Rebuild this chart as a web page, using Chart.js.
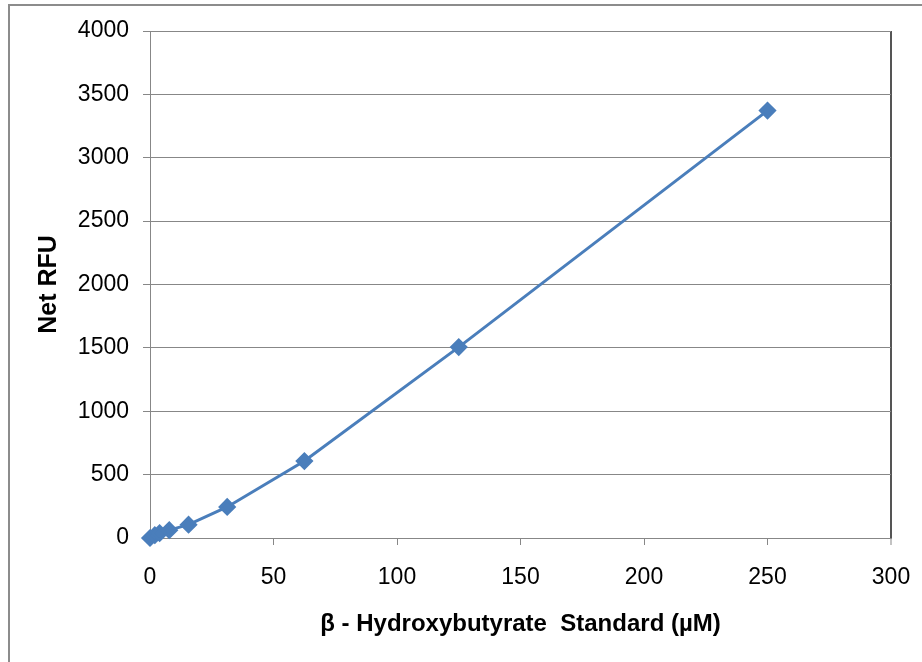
<!DOCTYPE html>
<html>
<head>
<meta charset="utf-8">
<script src="https://cdn.jsdelivr.net/npm/chart.js@4"></script>
<style>
  html, body { margin: 0; padding: 0; background: #fff; overflow: hidden; }
  canvas { display: block; }
</style>
</head>
<body>
<canvas id="chart" width="922" height="662"></canvas>
<script>
// standard curve points
const concentrations = [0, 1.95, 3.9, 7.8, 15.6, 31.25, 62.5, 125, 250];
const netRfu = [0, 22, 38, 62, 105, 245, 607, 1506, 3372];

const xTicks = [0, 50, 100, 150, 200, 250, 300];
const yTicks = [0, 500, 1000, 1500, 2000, 2500, 3000, 3500, 4000];

const gray = '#878787';
const fontName = '"Liberation Sans", Arial, sans-serif';

// outer chart frame, only left and top edges are visible in the picture
const framePlugin = {
    id: 'frame',
    beforeDraw(chart) {
        const c = chart.ctx;
        c.save();
        c.fillStyle = '#fff';
        c.fillRect(0, 0, chart.width, chart.height);
        c.strokeStyle = '#8c8c8c';
        c.lineWidth = 2;
        c.beginPath();
        c.moveTo(9, chart.height);
        c.lineTo(9, 5);
        c.lineTo(chart.width, 5);
        c.stroke();
        c.restore();
    }
};

new Chart(document.getElementById('chart'), {
    type: 'line',
    data: {
        datasets: [{
            data: concentrations.map((x, i) => ({ x: x, y: netRfu[i] })),
            borderColor: '#4a7ebb',
            backgroundColor: '#4a7ebb',
            borderWidth: 3,
            pointStyle: 'rectRot',
            pointRadius: 7,
            pointHoverRadius: 7,
            tension: 0,
            clip: false
        }]
    },
    plugins: [framePlugin],
    options: {
        responsive: false,
        animation: false,
        layout: { padding: { left: 0, right: 31, top: 31, bottom: 0 } },
        plugins: {
            legend: { display: false },
            tooltip: { enabled: false }
        },
        scales: {
            x: {
                type: 'linear',
                min: 0,
                max: 300,
                afterFit: (s) => { s.height = 124; s.paddingLeft = 0; s.paddingRight = 0; },
                afterBuildTicks: (s) => { s.ticks = xTicks.map(v => ({ value: v })); },
                border: { color: gray, width: 1 },
                grid: {
                    color: (ctx) => (ctx.tick && ctx.tick.value === 300 ? '#555' : 'rgba(0,0,0,0)'),
                    lineWidth: (ctx) => (ctx.tick && ctx.tick.value === 300 ? 2 : 1),
                    tickColor: gray,
                    tickWidth: 1,
                    tickLength: 7
                },
                ticks: {
                    color: '#000',
                    padding: 19,
                    maxRotation: 0,
                    callback: (v) => String(v),
                    font: { family: fontName, size: 23 }
                },
                title: {
                    display: true,
                    text: 'β - Hydroxybutyrate  Standard (µM)',
                    color: '#000',
                    padding: { top: 0, bottom: 23 },
                    font: { family: fontName, size: 24, weight: 'bold' }
                }
            },
            y: {
                min: 0,
                max: 4000,
                afterFit: (s) => { s.width = 150; s.paddingTop = 0; s.paddingBottom = 0; },
                afterBuildTicks: (s) => { s.ticks = yTicks.map(v => ({ value: v })); },
                border: { color: gray, width: 1 },
                grid: {
                    color: gray,
                    tickColor: gray,
                    tickLength: 7,
                    lineWidth: 1
                },
                ticks: {
                    color: '#000',
                    padding: 14,
                    callback: (v) => String(v),
                    font: { family: fontName, size: 23 }
                },
                title: {
                    display: true,
                    text: 'Net RFU',
                    color: '#000',
                    padding: { top: 34, bottom: 0 },
                    font: { family: fontName, size: 25, weight: 'bold' }
                }
            }
        }
    }
});
</script>
</body>
</html>
